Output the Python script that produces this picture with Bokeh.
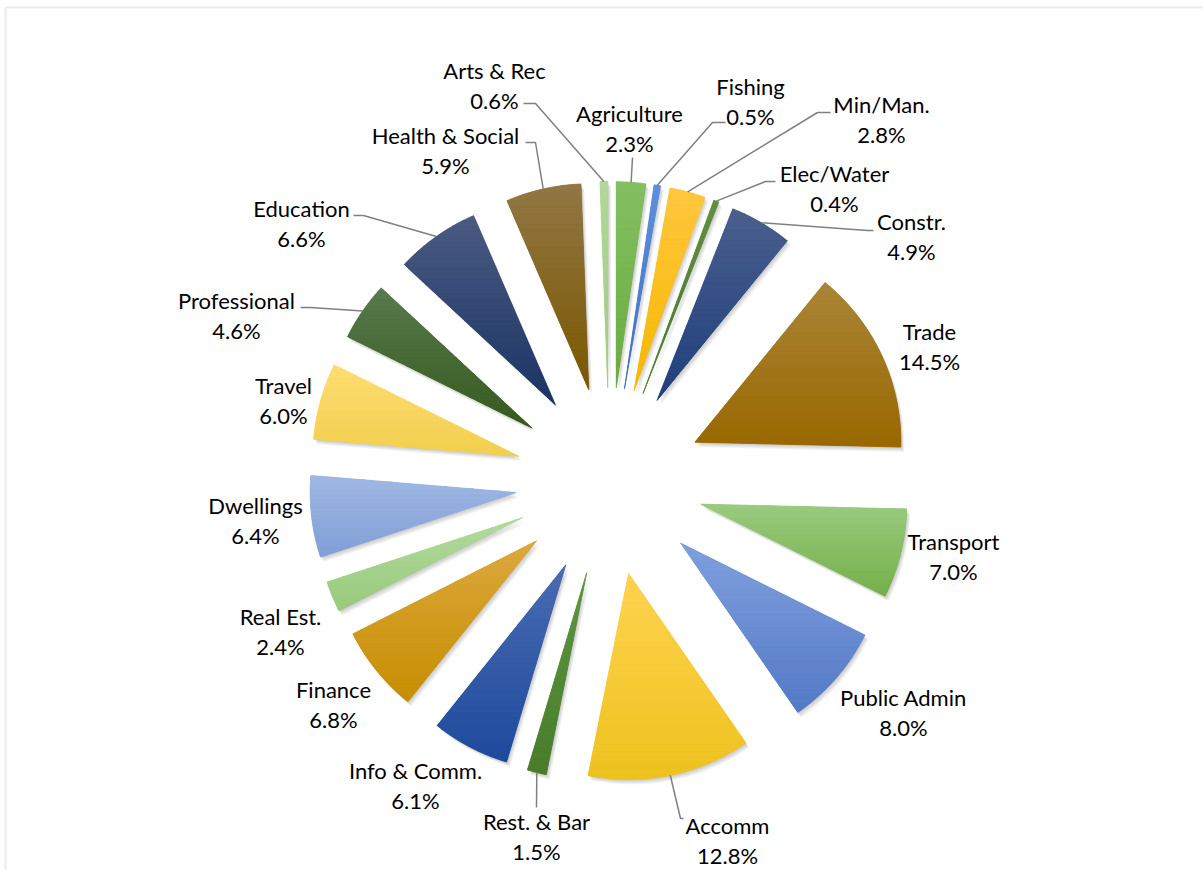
import numpy as np
from bokeh.plotting import figure
from bokeh.models import Range1d, ColumnDataSource, BoxAnnotation
from bokeh.core.properties import value
from bokeh.embed import file_html
from bokeh.resources import INLINE

# ---------------- data ----------------
categories = ["Agriculture", "Fishing", "Min/Man.", "Elec/Water", "Constr.", "Trade",
              "Transport", "Public Admin", "Accomm", "Rest. & Bar", "Info & Comm.",
              "Finance", "Real Est.", "Dwellings", "Travel", "Professional",
              "Education", "Health & Social", "Arts & Rec"]
shares = [2.3, 0.5, 2.8, 0.4, 4.9, 14.5, 7.0, 8.0, 12.8, 1.5, 6.1, 6.8, 2.4, 6.4,
          6.0, 4.6, 6.6, 5.9, 0.6]
pct_labels = [f"{v:.1f}%" for v in shares]

# ---------------- styles ----------------
top_colors = ["#84bf62", "#5f8fdc", "#ffc73f", "#5f8f40", "#4a5f8c", "#aa8538",
              "#9acb7e", "#80a0dd", "#ffd34f", "#5e9743", "#4a6cb3", "#dda83e",
              "#b3da9e", "#a0b8e3", "#ffdd72", "#5a7a4d", "#4b5b82", "#927744",
              "#b0d898"]
bottom_colors = ["#6aab40", "#3f6fc4", "#f5b800", "#4b7a2c", "#1f3f7d", "#996800",
                 "#74b04a", "#5479c6", "#edc21e", "#487c2b", "#1e4a9c", "#c68e00",
                 "#98ca7d", "#819fd7", "#f1cf4f", "#355a1e", "#1b3464", "#7a5700",
                 "#9fcc84"]

# label layout (pixel coords of the name line centre)
label_pos = {
    "Agriculture": (629, 115), "Fishing": (750, 88), "Min/Man.": (881, 106),
    "Elec/Water": (834, 175), "Constr.": (911, 223), "Trade": (929, 333),
    "Transport": (953, 543), "Public Admin": (903, 699), "Accomm": (727, 827),
    "Rest. & Bar": (536, 823), "Info & Comm.": (415, 772), "Finance": (333, 691),
    "Real Est.": (280, 618), "Dwellings": (255, 507), "Travel": (283, 387),
    "Professional": (236, 302), "Education": (301, 210), "Health & Social": (445, 137),
    "Arts & Rec": (494, 72),
}
LINE_GAP = 30
TEXT_SHIFT = 2
# leader line points on the label side (pixel coords), slice end computed
leaders = {
    "Arts & Rec": [(523, 103), (535, 103)],
    "Health & Social": [(525, 142), (535, 142)],
    "Agriculture": [(632, 157)],
    "Fishing": [(725, 122), (712, 122)],
    "Min/Man.": [(830, 112), (817, 112)],
    "Elec/Water": [(775, 181), (765, 181)],
    "Constr.": [(873, 230), (867, 230)],
    "Education": [(353, 215), (363, 215)],
    "Professional": [(300, 307), (310, 307)],
    "Rest. & Bar": [(536, 807)],
    "Accomm": [(683, 818), (680, 818)],
}

W, H = 1203, 870
CX, CY = 609.0, -481.0
R = 206.0
EXPLODE = 94.0

p = figure(width=W, height=H, x_range=Range1d(0, W), y_range=Range1d(-H, 0),
           output_backend="svg", toolbar_location=None,
           x_axis_location=None, y_axis_location=None,
           min_border_left=0, min_border_right=0, min_border_top=0, min_border_bottom=0)
p.grid.visible = False
p.outline_line_color = None
p.background_fill_color = "white"
p.border_fill_color = "white"

# chart-area border (top and left edges visible)
p.add_layout(BoxAnnotation(left=5, right=W + 20, top=-7, bottom=-H - 20,
                           fill_alpha=0, line_color="#bdbdbd", line_width=2))

vals = np.array(shares, dtype=float)
frac = vals / vals.sum()
cum = np.concatenate([[0.0], np.cumsum(frac)])
a0 = cum[:-1] * 2 * np.pi          # clockwise from 12 o'clock
a1 = cum[1:] * 2 * np.pi
bis = (a0 + a1) / 2
ox = CX + EXPLODE * np.sin(bis)
oy = CY + EXPLODE * np.cos(bis)
sa = np.pi / 2 - a1
ea = np.pi / 2 - a0

# soft shadow
for k in range(1, 6):
    p.wedge(x=list(ox + 0.7 * k), y=list(oy - 1.0 * k), radius=R,
            start_angle=list(sa), end_angle=list(ea),
            fill_color="black", fill_alpha=0.045, line_color=None)

src = ColumnDataSource(dict(x=ox, y=oy, sa=sa, ea=ea, color=bottom_colors,
                            cat=categories, pct=pct_labels))
p.wedge(x="x", y="y", radius=R, start_angle="sa", end_angle="ea",
        fill_color="color", line_color=None, source=src)


# gradient overlay: horizontal bands of each slice
def hex2rgb(h):
    h = h.lstrip("#")
    return np.array([int(h[i:i + 2], 16) for i in (0, 2, 4)], dtype=float)


def clip(poly, keep, inter):
    out = []
    n = len(poly)
    for i in range(n):
        cur, prev = poly[i], poly[i - 1]
        if keep(cur):
            if not keep(prev):
                out.append(inter(prev, cur))
            out.append(cur)
        elif keep(prev):
            out.append(inter(prev, cur))
    return out


def yinter(yv):
    def f(a, b):
        t = (yv - a[1]) / (b[1] - a[1])
        return (a[0] + t * (b[0] - a[0]), yv)
    return f


bx, by, bc = [], [], []
NB = 36
for i in range(len(shares)):
    ts = np.linspace(sa[i], ea[i], 90)
    poly = [(ox[i], oy[i])] + [(ox[i] + R * np.cos(t), oy[i] + R * np.sin(t)) for t in ts]
    ymin = min(q[1] for q in poly)
    ymax = max(q[1] for q in poly)
    h = (ymax - ymin) / NB
    ct, cb = hex2rgb(top_colors[i]), hex2rgb(bottom_colors[i])
    for j in range(NB):
        lo = ymin + j * h
        hi = lo + h
        part = clip(poly, lambda q, lo=lo: q[1] >= lo, yinter(lo))
        if not part:
            continue
        part = clip(part, lambda q, hi=hi: q[1] <= hi, yinter(hi))
        if len(part) < 3:
            continue
        f = (j + 0.5) / NB
        c = cb + (ct - cb) * f
        bx.append([q[0] for q in part])
        by.append([q[1] for q in part])
        bc.append("#%02x%02x%02x" % tuple(int(round(v)) for v in c))

p.patches(xs=bx, ys=by, fill_color=bc, line_color=bc, line_width=0.8)

# leader lines
lx, ly = [], []
for name, pts in leaders.items():
    i = categories.index(name)
    ax = CX + (EXPLODE + R) * np.sin(bis[i])
    ay = CY + (EXPLODE + R) * np.cos(bis[i])
    lx.append([q[0] for q in pts] + [ax])
    ly.append([-q[1] for q in pts] + [ay])
p.multi_line(xs=lx, ys=ly, line_color="#808080", line_width=1.5)

# labels
tx = [label_pos[c][0] for c in categories]
ty = [-label_pos[c][1] + TEXT_SHIFT for c in categories]
p.text(x=tx, y=ty, text=categories, text_align="center", text_baseline="middle",
       text_font=value("Lato"), text_font_size="22px", text_color="#000000")
p.text(x=tx, y=[v - LINE_GAP for v in ty], text=pct_labels, text_align="center",
       text_baseline="middle", text_font=value("Lato"), text_font_size="22px",
       text_color="#000000")

open("out.html", "w").write(file_html(p, INLINE))
